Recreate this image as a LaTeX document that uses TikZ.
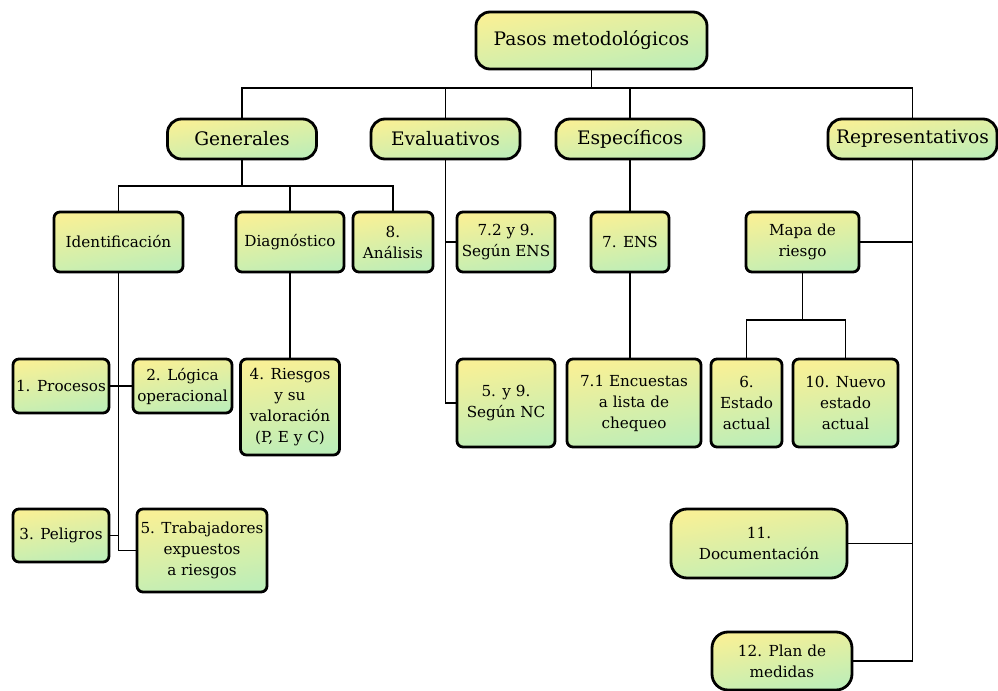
\documentclass[tikz,border=0pt]{standalone}
\usepackage{fontspec}
\setmainfont{DejaVu Serif}
\definecolor{boxyellow}{RGB}{248,240,150}
\definecolor{boxgreen}{RGB}{189,238,184}
\tikzset {
    base box/.style = {
        draw,
        line width = 1.4pt,
        top color = boxyellow,
        bottom color = boxgreen,
        shading angle = 10,
        align = center,
        inner sep = 0.5pt
    },
    group box/.style = {base box, rounded corners = 7pt, font = \fontsize{9.3}{11}\selectfont},
    step box/.style = {base box, rounded corners = 3pt, font = \fontsize{7.6}{10.5}\selectfont},
    wide box/.style = {base box, rounded corners = 8pt, font = \fontsize{7.6}{10.5}\selectfont},
    box size/.style 2 args = {minimum width = #1*0.5pt, minimum height = #2*0.5pt},
    link/.style = {line width = 0.9pt}
}

\begin{document}
\begin{tikzpicture}[x = 0.5pt, y = -0.5pt]
    \useasboundingbox (0, 0) rectangle (998, 691);
    %
    \node (root) [group box, box size = {231}{57}] at (591.5, 40.5) {Pasos metodológicos};
    \node (gen) [group box, box size = {149}{40}] at (242, 139) {Generales};
    \node (eva) [group box, box size = {149}{40}] at (445.5, 139) {Evaluativos};
    \node (esp) [group box, box size = {148}{40}] at (630, 139) {Específicos};
    \node (rep) [group box, box size = {169}{40}] at (912.5, 139) {Representativos};
    %
    \node (ident) [step box, box size = {129}{60}] at (118.5, 242) {Identificación};
    \node (diag) [step box, box size = {108}{60}] at (290, 242) {Diagnóstico};
    \node (anal) [step box, box size = {80}{60}] at (393, 242) {8.\\Análisis};
    \node (sens) [step box, box size = {98}{60}] at (506, 242) {7.2 y 9.\\Según ENS};
    \node (ens) [step box, box size = {78}{60}] at (630, 242) {7. ENS};
    \node (mapa) [step box, box size = {113}{60}] at (802.5, 242) {Mapa de\\riesgo};
    %
    \node (proc) [step box, box size = {96}{54}] at (61, 386) {1. Procesos};
    \node (logi) [step box, box size = {99}{54}] at (182.5, 386) {2. Lógica\\operacional};
    \node (ries) [step box, box size = {99}{96}] at (290, 407) {4. Riesgos\\y su\\valoración\\(P, E y C)};
    \node (snc) [step box, box size = {98}{88}] at (506, 403) {5. y 9.\\Según NC};
    \node (encu) [step box, box size = {134}{88}] at (634, 403) {7.1 Encuestas\\a lista de\\chequeo};
    \node (est) [step box, box size = {71}{88}] at (746.5, 403) {6.\\Estado\\actual};
    \node (nuevo) [step box, box size = {105}{88}] at (845.5, 403) {10. Nuevo\\estado\\actual};
    %
    \node (pelig) [step box, box size = {96}{53}] at (61, 535.5) {3. Peligros};
    \node (trab) [step box, box size = {130}{83}] at (202, 550.5) {5. Trabajadores\\expuestos\\a riesgos};
    \node (doc) [wide box, box size = {176}{69}] at (759, 543.5) {11.\\Documentación};
    \node (plan) [wide box, box size = {140}{58}] at (782, 661) {12. Plan de\\medidas};
    %
    \coordinate (top bar) at (591.5, 88);
    \draw [link] (root) -- (top bar);
    \foreach \n in {gen, eva, esp, rep} \draw [link] (\n) |- (top bar);
    %
    \coordinate (gen bar) at (242, 186);
    \draw [link] (gen) -- (gen bar);
    \foreach \n in {ident, diag, anal} \draw [link] (\n) |- (gen bar);
    \draw [link] (ident) |- (trab);
    \draw [link] (proc) -- (logi);
    \draw [link] (pelig) -| (ident);
    \draw [link] (diag) -- (ries);
    %
    \draw [link] (eva) |- (snc);
    \draw [link] (sens) -| (eva);
    \draw [link] (esp) -- (ens);
    \draw [link] (ens) -- (ens |- encu.north);
    %
    \coordinate (mapa bar) at (802.5, 320);
    \draw [link] (mapa) -- (mapa bar);
    \foreach \n in {est, nuevo} \draw [link] (\n) |- (mapa bar);
    \draw [link] (mapa) -| (rep);
    \draw [link] (doc) -| (rep);
    \draw [link] (plan) -| (rep);
\end{tikzpicture}
\end{document}
